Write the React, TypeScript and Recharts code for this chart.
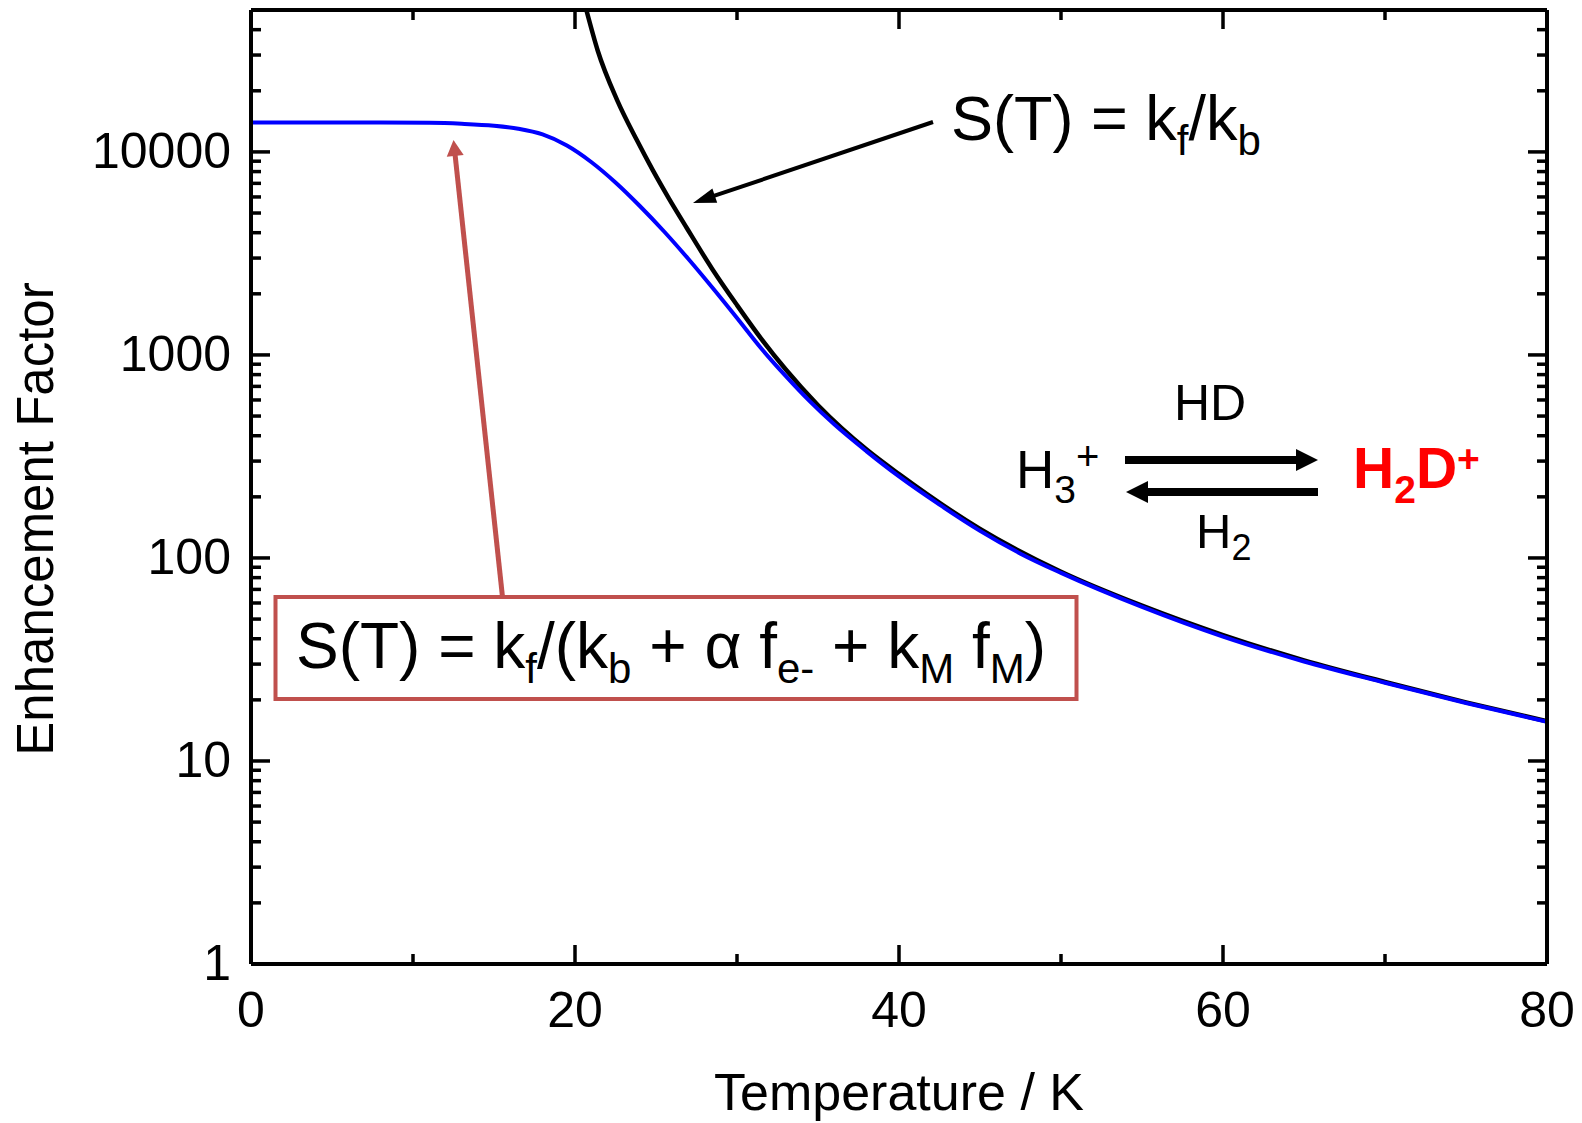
import { LineChart, Line, XAxis, YAxis } from 'recharts';

// blue curve: S(T) = kf/(kb + alpha fe- + kM fM)
const blueT = [0, 4, 8, 11, 13, 15, 16.5, 18, 19.5, 21, 22.5, 24, 25.5, 27, 28.5, 30, 31.5, 33, 34.5, 36, 38, 40, 42.5, 45, 47.5, 50, 55, 60, 65, 70, 75, 80];
const blueS = [13950, 13950, 13940, 13900, 13750, 13450, 13000, 12190, 10750, 8920, 7070, 5415, 4055, 2968, 2136, 1520, 1075, 788, 590, 455, 335, 252, 183, 136, 105, 84.4, 57.4, 41, 30.9, 24.3, 19.3, 15.6];

// black curve: S(T) = kf/kb
const blackT = [20.7, 21.4, 22.6, 23.8, 24.8, 25.8, 26.9, 28.5, 30, 31.5, 33, 35, 38, 40, 45, 50, 55, 60, 65, 70, 75, 80];
const blackS = [50000, 31600, 18000, 11500, 8130, 5890, 4220, 2630, 1760, 1200, 850, 565, 342, 259, 139, 85.5, 58.2, 41.7, 31.3, 24.5, 19.45, 15.7];

const xTicks = [0, 10, 20, 30, 40, 50, 60, 70, 80];
const xLabels = [0, 20, 40, 60, 80];
const yTicks = [
  1, 2, 3, 4, 5, 6, 7, 8, 9,
  10, 20, 30, 40, 50, 60, 70, 80, 90,
  100, 200, 300, 400, 500, 600, 700, 800, 900,
  1000, 2000, 3000, 4000, 5000, 6000, 7000, 8000, 9000,
  10000, 20000, 30000, 40000,
];
const yLabels = [1, 10, 100, 1000, 10000];

const blueData = blueT.map((t, i) => ({ t, v: blueS[i] }));
const blackData = blackT.map((t, i) => ({ t, v: blackS[i] }));

const FONT = '"Liberation Sans", Arial, Helvetica, sans-serif';
const RED = '#C0504D';
const MAJOR = 19;
const MINOR = 10;
const TW = 3.5;

const LeftTick = (props: any) => {
  const { x, y, payload } = props;
  const major = yLabels.includes(payload.value);
  return (
    <g>
      <line x1={x} y1={y} x2={x + (major ? MAJOR : MINOR)} y2={y} stroke="#000" strokeWidth={TW} />
      {major && (
        <text x={x - 20} y={y + 16} textAnchor="end" fontSize={50} fontFamily={FONT} fill="#000">
          {payload.value}
        </text>
      )}
    </g>
  );
};

const RightTick = (props: any) => {
  const { x, y, payload } = props;
  const major = yLabels.includes(payload.value);
  return <line x1={x} y1={y} x2={x - (major ? MAJOR : MINOR)} y2={y} stroke="#000" strokeWidth={TW} />;
};

const BottomTick = (props: any) => {
  const { x, y, payload } = props;
  const major = xLabels.includes(payload.value);
  return (
    <g>
      <line x1={x} y1={y} x2={x} y2={y - (major ? MAJOR : MINOR)} stroke="#000" strokeWidth={TW} />
      {major && (
        <text x={x} y={y + 63} textAnchor="middle" fontSize={50} fontFamily={FONT} fill="#000">
          {payload.value}
        </text>
      )}
    </g>
  );
};

const TopTick = (props: any) => {
  const { x, y, payload } = props;
  const major = xLabels.includes(payload.value);
  return <line x1={x} y1={y} x2={x} y2={y + (major ? MAJOR : MINOR)} stroke="#000" strokeWidth={TW} />;
};

// straight arrow with a filled head, tip at (x2, y2)
const Arrow = ({ x1, y1, x2, y2, w, len, head, color }: any) => {
  const dx = x2 - x1;
  const dy = y2 - y1;
  const d = Math.sqrt(dx * dx + dy * dy);
  const ux = dx / d;
  const uy = dy / d;
  const bx = x2 - ux * len;
  const by = y2 - uy * len;
  const px = -uy * (head / 2);
  const py = ux * (head / 2);
  return (
    <g>
      <line x1={x1} y1={y1} x2={bx + ux * 1} y2={by + uy * 1} stroke={color} strokeWidth={w} />
      <polygon points={`${x2},${y2} ${bx + px},${by + py} ${bx - px},${by - py}`} fill={color} />
    </g>
  );
};

const SUB = 15;

export default function App() {
  return (
    <div style={{ position: 'absolute', left: 0, top: 0, width: 1582, height: 1123, background: '#fff' }}>
      <LineChart width={1582} height={1123} margin={{ top: 0, right: 0, bottom: 0, left: 0 }}>
        <XAxis
          xAxisId="bottom"
          type="number"
          dataKey="t"
          domain={[0, 80]}
          ticks={xTicks}
          interval={0}
          height={159}
          tickSize={0}
          tickMargin={0}
          tickLine={false}
          axisLine={{ stroke: '#000', strokeWidth: 4 }}
          tick={<BottomTick />}
        />
        <XAxis
          xAxisId="top"
          orientation="top"
          type="number"
          dataKey="t"
          domain={[0, 80]}
          ticks={xTicks}
          interval={0}
          height={10}
          tickSize={0}
          tickMargin={0}
          tickLine={false}
          axisLine={{ stroke: '#000', strokeWidth: 4 }}
          tick={<TopTick />}
        />
        <YAxis
          yAxisId="left"
          scale="log"
          type="number"
          domain={[1, 50000]}
          allowDataOverflow
          ticks={yTicks}
          interval={0}
          width={251}
          tickSize={0}
          tickMargin={0}
          tickLine={false}
          axisLine={{ stroke: '#000', strokeWidth: 4 }}
          tick={<LeftTick />}
        />
        <YAxis
          yAxisId="right"
          orientation="right"
          scale="log"
          type="number"
          domain={[1, 50000]}
          allowDataOverflow
          ticks={yTicks}
          interval={0}
          width={35}
          tickSize={0}
          tickMargin={0}
          tickLine={false}
          axisLine={{ stroke: '#000', strokeWidth: 4 }}
          tick={<RightTick />}
        />
        <Line
          data={blueData}
          xAxisId="top"
          yAxisId="right"
          dataKey="v"
          stroke="none"
          dot={false}
          activeDot={false}
          isAnimationActive={false}
        />
        <Line
          data={blackData}
          xAxisId="bottom"
          yAxisId="left"
          dataKey="v"
          type="monotone"
          stroke="#000"
          strokeWidth={4.5}
          dot={false}
          activeDot={false}
          isAnimationActive={false}
        />
        <Line
          data={blueData}
          xAxisId="bottom"
          yAxisId="left"
          dataKey="v"
          type="monotone"
          stroke="#0000FF"
          strokeWidth={4}
          dot={false}
          activeDot={false}
          isAnimationActive={false}
        />
      </LineChart>

      <svg
        width={1582}
        height={1123}
        style={{ position: 'absolute', left: 0, top: 0, pointerEvents: 'none', whiteSpace: 'pre' }}
        fontFamily={FONT}
      >
        {/* axis titles */}
        <text x={899} y={1110} textAnchor="middle" fontSize={52} fill="#000">Temperature / K</text>
        <text x={53} y={519} textAnchor="middle" fontSize={51} fill="#000" transform="rotate(-90 53 519)">
          Enhancement Factor
        </text>

        {/* S(T) = kf/kb label and arrow */}
        <Arrow x1={933} y1={122} x2={693} y2={203} w={4} len={23} head={15} color="#000" />
        <text x={951} y={140} fontSize={63} fill="#000">
          {'S(T) = k'}
          <tspan dy={SUB} fontSize={42}>f</tspan>
          <tspan dy={-SUB}>/k</tspan>
          <tspan dy={SUB} fontSize={42}>b</tspan>
        </text>

        {/* boxed full expression and red arrow */}
        <Arrow x1={502.5} y1={597} x2={453.5} y2={140} w={5} len={16} head={17} color={RED} />
        <rect x={275.5} y={597} width={801} height={102} fill="#fff" stroke={RED} strokeWidth={4} />
        <text x={296} y={668} fontSize={64} fill="#000">
          {'S(T) = k'}
          <tspan dy={SUB} fontSize={42}>f</tspan>
          <tspan dy={-SUB}>{'/(k'}</tspan>
          <tspan dy={SUB} fontSize={42}>b</tspan>
          <tspan dy={-SUB}>{' + \u03b1 f'}</tspan>
          <tspan dy={SUB} fontSize={42}>e-</tspan>
          <tspan dy={-SUB}>{' + k'}</tspan>
          <tspan dy={SUB} fontSize={42}>M</tspan>
          <tspan dy={-SUB}>{' f'}</tspan>
          <tspan dy={SUB} fontSize={42}>M</tspan>
          <tspan dy={-SUB}>)</tspan>
        </text>

        {/* reaction scheme */}
        <text x={1174} y={420} fontSize={50} fill="#000">HD</text>
        <text x={1016} y={488} fontSize={53} fill="#000">
          H
          <tspan dy={15} fontSize={39}>3</tspan>
          <tspan dy={-33} fontSize={40}>+</tspan>
        </text>
        <Arrow x1={1125} y1={460} x2={1318} y2={460} w={8} len={22} head={22} color="#000" />
        <Arrow x1={1318} y1={492} x2={1126} y2={492} w={8} len={22} head={22} color="#000" />
        <text x={1196} y={548} fontSize={49} fill="#000">
          H
          <tspan dy={12} fontSize={36}>2</tspan>
        </text>
        <text x={1353} y={488} fontSize={57} fontWeight="bold" fill="#FF0000">
          H
          <tspan dy={15} fontSize={39}>2</tspan>
          <tspan dy={-15} fontSize={57}>D</tspan>
          <tspan dy={-16} fontSize={39}>+</tspan>
        </text>
      </svg>
    </div>
  );
}
